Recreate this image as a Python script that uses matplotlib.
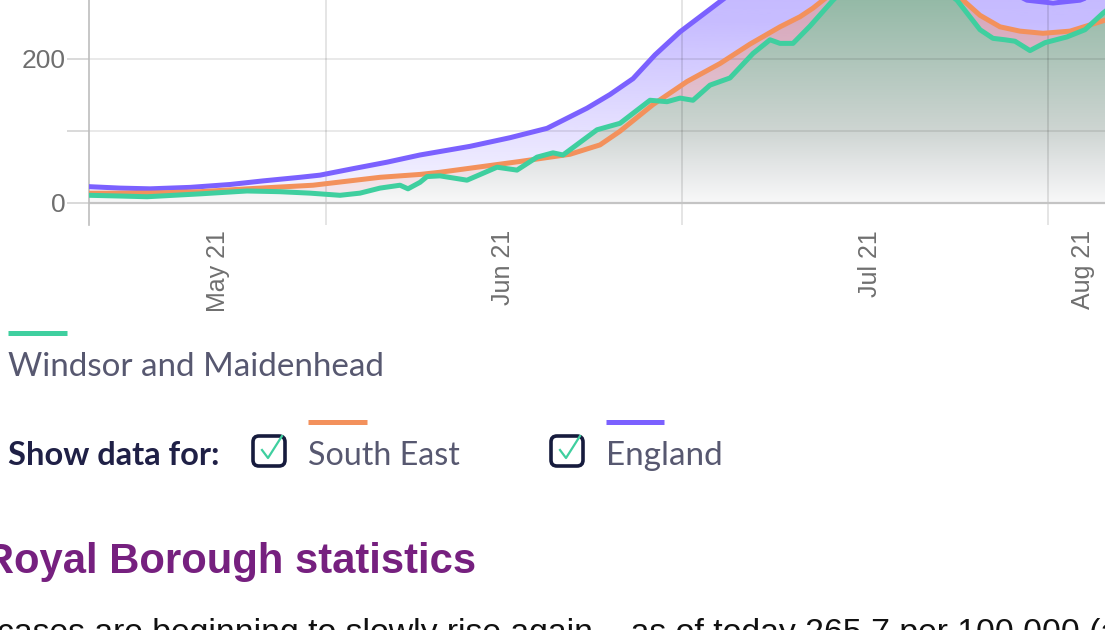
import numpy as np
import matplotlib
matplotlib.use("Agg")
import matplotlib.pyplot as plt
from matplotlib.patches import FancyBboxPatch
from matplotlib.lines import Line2D
from matplotlib.transforms import IdentityTransform

# page size in pixels
W, H = 1105, 630

# x is "days" from the left edge of the plot
eng_x = [0, 3.1, 6.1, 10.1, 14.1, 17.4, 21.1, 23.1, 26.4, 29.8, 33.1, 38.1, 42.1, 45.8,
         49.8, 52.1, 54.4, 56.6, 59.1, 61.1, 63.1, 65.1, 69.1, 74.1, 79.1, 84.1, 88.1,
         91.1, 93.8, 96.4, 99.1, 101.1, 102.5]
eng_y = [22, 20, 19, 21, 25, 30, 35, 38, 47, 56, 66, 78, 90, 103,
         131, 150, 172, 205, 237, 258, 279, 300, 340, 380, 400, 370, 330,
         300, 281, 277, 281, 292, 300]

se_x = [0, 6.1, 11.1, 15.8, 22.4, 29.1, 33.1, 35.1, 43.1, 48.1, 51.1, 53.1, 56.4, 59.8,
        63.1, 66.1, 69.1, 71.1, 72.4, 73.4, 76.1, 81.1, 85.1, 87.4, 89.1, 91.1, 93.1,
        95.4, 98.1, 101.1, 102.5]
se_y = [13, 13, 15, 19, 24, 35, 39, 42, 57, 67, 80, 99, 136, 168,
        193, 220, 244, 258, 270, 281, 310, 340, 305, 281, 260, 244, 238,
        235, 238, 251, 257]

wm_x = [0, 3.1, 5.8, 11.1, 15.8, 19.1, 22.1, 25.1, 27.1, 29.1, 31.1, 31.9, 33.1, 33.8,
        35.1, 37.8, 40.8, 42.8, 44.8, 46.4, 47.4, 50.8, 53.1, 56.1, 57.8, 59.1, 60.4,
        62.1, 64.1, 66.4, 68.1, 69.1, 70.4, 72.1, 74.4, 78.1, 83.1, 86.8, 89.1, 90.4,
        91.6, 92.6, 94.1, 95.6, 97.8, 99.6, 101.4, 102.5]
wm_y = [10, 9, 8, 12, 16, 15, 13, 10, 13, 20, 24, 19, 28, 36,
        37, 31, 49, 45, 63, 69, 66, 101, 110, 142, 140, 145, 142,
        163, 173, 207, 226, 221, 221, 245, 281, 330, 320, 281, 240, 228,
        226, 224, 211, 222, 230, 240, 263, 275]

tick_pos = [12.9, 41.4, 78.1, 99.4]
tick_lab = ["May 21", "Jun 21", "Jul 21", "Aug 21"]
grid_x = [23.7, 59.3, 95.9]

c_eng = "#7b61ff"
c_se = "#f3915c"
c_wm = "#3fcf9f"


def grad_fill(ax, x, y, stops, z):
    poly = ax.fill_between(x, y, 0, facecolor="none", edgecolor="none")
    v = np.linspace(0, 450, 300)
    img = np.zeros((len(v), 1, 4))
    sv = [s[0] for s in stops]
    for k in range(4):
        img[:, 0, k] = np.interp(v, sv, [s[1][k] for s in stops])
    im = ax.imshow(img, extent=[0, 103, 0, 450], origin="lower", aspect="auto",
                   interpolation="bilinear", zorder=z)
    im.set_clip_path(poly.get_paths()[0], transform=ax.transData)


fig = plt.figure(figsize=(W / 100, H / 100), dpi=100)
ax = fig.add_axes([89 / W, 1 - 225 / H, (W - 89) / W, 225 / H])

pr, pg, pb = 123 / 255, 97 / 255, 1.0
grad_fill(ax, eng_x, eng_y, [(0, (pr, pg, pb, 0.06)), (60, (pr, pg, pb, 0.14)),
                              (120, (pr, pg, pb, 0.22)), (250, (pr, pg, pb, 0.42)),
                              (450, (pr, pg, pb, 0.5))], 1)
orr, og, ob = 243 / 255, 145 / 255, 92 / 255
grad_fill(ax, se_x, se_y, [(0, (orr, og, ob, 0.1)), (100, (orr, og, ob, 0.25)),
                            (250, (orr, og, ob, 0.4)), (450, (orr, og, ob, 0.4))], 1.1)
g = lambda r, gg, b: (r / 255, gg / 255, b / 255, 1.0)
grad_fill(ax, wm_x, wm_y, [(0, g(248, 248, 249)), (60, g(224, 227, 227)),
                            (100, g(206, 213, 210)), (200, g(174, 197, 186)),
                            (280, g(149, 186, 167)), (450, g(140, 182, 160))], 1.2)

# grid
for gx in grid_x:
    ax.axvline(gx, color="#000000", alpha=0.12, lw=1.2, zorder=1.5)
for gy in [100, 200]:
    ax.axhline(gy, color="#000000", alpha=0.1, lw=1.2, zorder=1.5)
ax.axhline(0, color="#c4c4c4", lw=1.6, zorder=1.6)

ax.plot(eng_x, eng_y, color=c_eng, lw=3.6, zorder=3, solid_joinstyle="round")
ax.plot(se_x, se_y, color=c_se, lw=3.6, zorder=3.1, solid_joinstyle="round")
ax.plot(wm_x, wm_y, color=c_wm, lw=3.6, zorder=3.2, solid_joinstyle="round")

ax.set_xlim(0, (W - 89) / 10)
ax.set_ylim(-31.25, 281.25)
for s in ["top", "right", "bottom"]:
    ax.spines[s].set_visible(False)
ax.spines["left"].set_color("#bdbdbd")
ax.spines["left"].set_linewidth(1.2)
ax.set_yticks([0, 100, 200], labels=["0", "", "200"])
ax.tick_params(axis="y", length=15.8, width=1.1, color="#cfcfcf", pad=1,
               labelsize=19, labelcolor="#6f6f6f")
ax.set_xticks(tick_pos, labels=tick_lab)
ax.tick_params(axis="x", length=0, pad=3.6, labelsize=18, labelcolor="#6f6f6f",
               labelrotation=90)
for t in ax.get_xticklabels() + ax.get_yticklabels():
    t.set_fontfamily("Liberation Sans")
ax.patch.set_alpha(0)

# legend / page text below the chart
rend = fig.canvas.get_renderer()


def put(px, py, s, width, **kw):
    t = fig.text(px / W, 1 - py / H, s, ha="left", va="baseline", fontsize=20, **kw)
    w = t.get_window_extent(rend).width
    t.set_fontsize(20 * width / w)
    return t


put(8, 376, "Windsor and Maidenhead", 377, family="Lato", color="#575870")
put(8, 465, "Show data for:", 212, family="Lato", weight="bold", color="#1f2046")
put(308, 465, "South East", 152, family="Lato", color="#575870")
put(606, 465, "England", 117, family="Lato", color="#575870")
put(-16, 573, "Royal Borough statistics", 491, family="Liberation Sans",
    weight="bold", color="#76207f")
put(-3, 642, "cases are beginning to slowly rise again \u2013 as of today 265.7 per 100,000 (a",
    1120, family="Liberation Sans", color="#111111")

idt = IdentityTransform()
for x0, x1, y0, col in [(8, 67, 333, c_wm), (308, 367, 422, c_se), (606, 664, 422, c_eng)]:
    fig.add_artist(Line2D([x0, x1], [H - y0, H - y0], color=col, lw=3.6,
                          solid_capstyle="butt", transform=idt))

for bx in [251, 549]:
    fig.add_artist(FancyBboxPatch((bx + 2, H - 466), 32, 30,
                                  boxstyle="round,pad=0,rounding_size=6",
                                  facecolor="white", edgecolor="#161b3d", lw=2.6,
                                  transform=idt))
    fig.add_artist(Line2D([bx + 11, bx + 17, bx + 31], [H - 450, H - 458, H - 436],
                          color=c_wm, lw=1.6, transform=idt))

fig.savefig("out.png", dpi=100)
